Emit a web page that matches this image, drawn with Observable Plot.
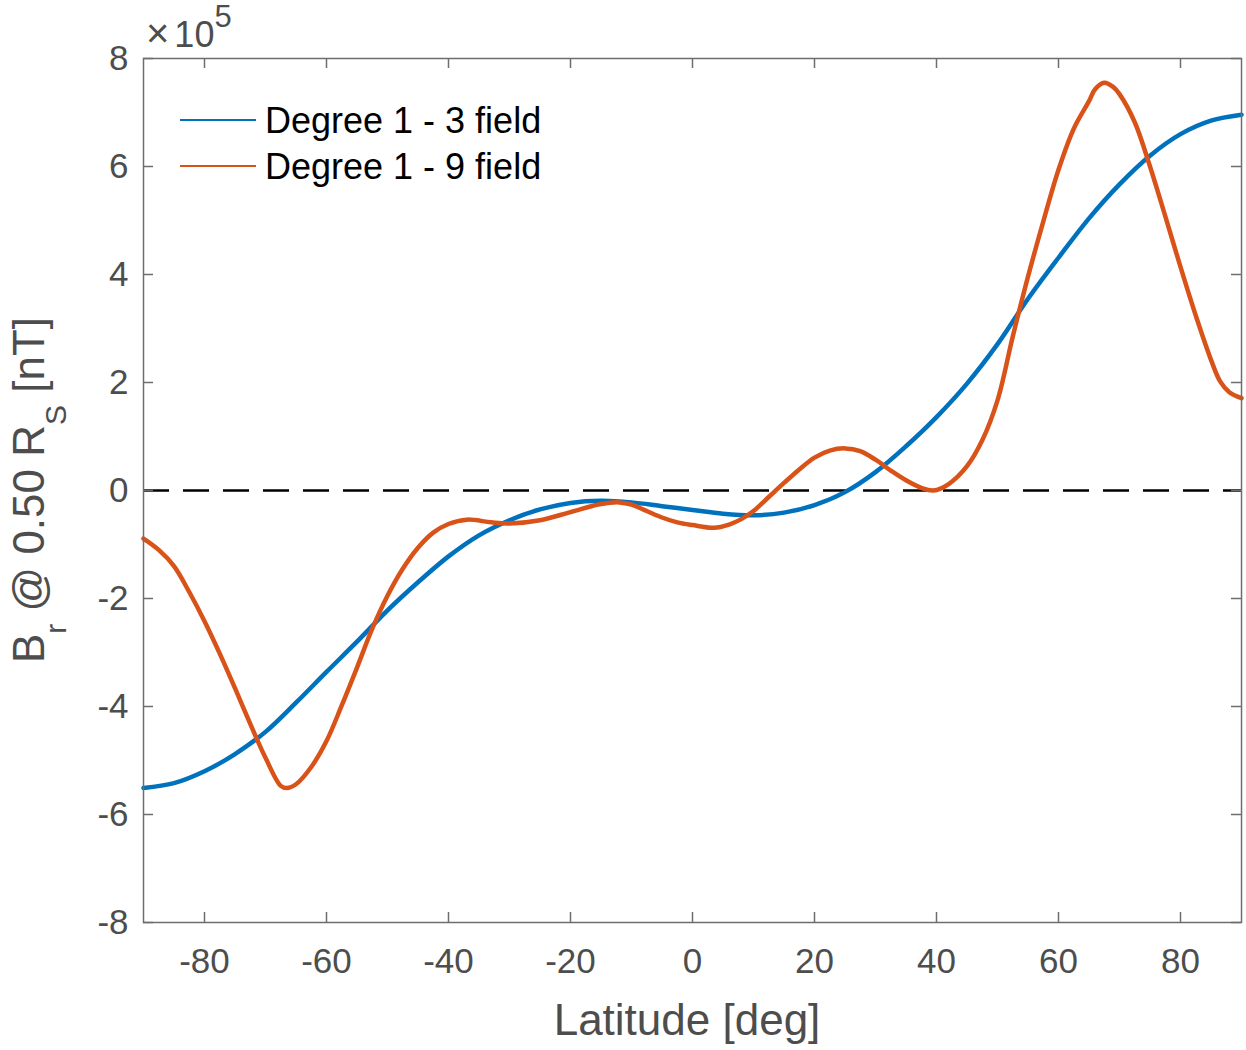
<!DOCTYPE html>
<html>
<head>
<meta charset="utf-8">
<script src="https://cdn.jsdelivr.net/npm/d3@7"></script>
<script src="https://cdn.jsdelivr.net/npm/@observablehq/plot@0.6"></script>
<style>
  body { margin: 0; background: #fff; }
  #chart { width: 1246px; height: 1050px; }
</style>
</head>
<body>
<div id="chart"></div>
<script>
// ---- data (values in units of 1e5 nT) ----
const latDeg13 = [-90,-85,-80,-75,-70,-65,-60,-55,-50,-45,-40,-35,-30,-25,-20,-15,-10,-5,0,5,10,15,20,25,30,35,40,45,50,55,60,65,70,75,80,85,90];
const brDeg13 = [-5.51,-5.42,-5.20,-4.88,-4.47,-3.93,-3.36,-2.80,-2.22,-1.70,-1.22,-0.83,-0.55,-0.35,-0.23,-0.19,-0.22,-0.29,-0.36,-0.43,-0.46,-0.41,-0.27,-0.03,0.34,0.82,1.36,1.98,2.71,3.55,4.31,5.04,5.67,6.20,6.60,6.85,6.96];

const latDeg19 = [-90,-87.5,-85,-82.5,-80,-77.5,-75,-72.5,-70,-67.5,-66.5,-65,-62.5,-60,-57.5,-55,-52.5,-50,-47.5,-45,-42.5,-40,-37,-33,-30,-25,-20,-15,-12,-10,-7.5,-5,-2.5,0,3.5,6,8,10,12.5,15,17.5,20,22.5,25,27.5,30,32.5,35,37.5,39.5,42,45,47.5,50,52.5,55,57.5,60,62.5,65,66,67.5,69,70,72.5,75,77.5,80,82.5,85,86.5,88,90];
const brDeg19 = [-0.89,-1.10,-1.40,-1.88,-2.42,-3.02,-3.66,-4.32,-4.95,-5.47,-5.51,-5.44,-5.12,-4.64,-3.98,-3.28,-2.56,-1.95,-1.45,-1.06,-0.78,-0.62,-0.54,-0.59,-0.61,-0.55,-0.40,-0.25,-0.22,-0.26,-0.38,-0.50,-0.59,-0.64,-0.69,-0.63,-0.53,-0.38,-0.12,0.14,0.39,0.61,0.74,0.78,0.73,0.57,0.37,0.19,0.05,0.00,0.12,0.45,0.93,1.67,2.85,3.96,4.98,5.94,6.70,7.21,7.43,7.55,7.47,7.34,6.82,6.00,5.08,4.14,3.24,2.42,2.02,1.82,1.71];

const seriesNames = ["Degree 1 - 3 field", "Degree 1 - 9 field"];
const seriesColors = ["#0072BD", "#D95319"];

const xTicks = [-80,-60,-40,-20,0,20,40,60,80];
const yTicks = [-8,-6,-4,-2,0,2,4,6,8];
const xDomain = [-90, 90];
const yDomain = [-8, 8];
const zeroLine = [0];

// ---- layout ----
const W = 1246, H = 1050;
const mL = 143, mR = 5, mT = 58, mB = 128;
const fw = W - mL - mR, fh = H - mT - mB;
const FONT = "Helvetica, 'Liberation Sans', Arial, sans-serif";
const axisGray = "#6e6e6e";
const textGray = "#4d4d4d";

const d13 = latDeg13.map((x, i) => ({x, y: brDeg13[i]}));
const d19 = latDeg19.map((x, i) => ({x, y: brDeg19[i]}));

const plot = Plot.plot({
  width: W, height: H,
  marginLeft: mL, marginRight: mR, marginTop: mT, marginBottom: mB,
  style: {fontFamily: FONT, fontSize: "35px", color: textGray, background: "white", overflow: "visible"},
  x: {domain: xDomain},
  y: {domain: yDomain},
  marks: [
    Plot.ruleY(zeroLine, {stroke: "black", strokeWidth: 2.5, strokeDasharray: "26,14"}),
    Plot.line(d13, {x: "x", y: "y", stroke: seriesColors[0], strokeWidth: 4.5, curve: "catmull-rom"}),
    Plot.line(d19, {x: "x", y: "y", stroke: seriesColors[1], strokeWidth: 4.5, curve: "catmull-rom"}),
    Plot.frame({stroke: axisGray, strokeWidth: 1.5}),
    Plot.tickX(xTicks, {x: d => d, stroke: axisGray, strokeWidth: 1.5, insetTop: fh - 10}),
    Plot.tickX(xTicks, {x: d => d, stroke: axisGray, strokeWidth: 1.5, insetBottom: fh - 10}),
    Plot.tickY(yTicks, {y: d => d, stroke: axisGray, strokeWidth: 1.5, insetRight: fw - 10}),
    Plot.tickY(yTicks, {y: d => d, stroke: axisGray, strokeWidth: 1.5, insetLeft: fw - 10}),
    Plot.axisX(xTicks, {tickSize: 0, tickPadding: 26, tickFormat: d => String(d), label: null, fontSize: 35, fill: textGray}),
    Plot.axisY(yTicks, {tickSize: 0, tickPadding: 15, tickFormat: d => String(d), label: null, fontSize: 35, fill: textGray})
  ]
});

document.getElementById("chart").appendChild(plot);

// ---- labels, exponent, legend ----
const svg = d3.select(plot);
const g = svg.append("g").attr("font-family", FONT).attr("text-anchor", "start");

g.append("text")
  .attr("x", 687).attr("y", 1035)
  .attr("text-anchor", "middle").attr("font-size", 44).attr("fill", textGray)
  .text("Latitude [deg]");

const yl = g.append("text")
  .attr("transform", "translate(44,490) rotate(-90)")
  .attr("text-anchor", "middle").attr("font-size", 44).attr("fill", textGray);
yl.append("tspan").text("B");
yl.append("tspan").attr("font-size", 30).attr("dy", 22).text("r");
yl.append("tspan").attr("dy", -22).text(" @ 0.50 R");
yl.append("tspan").attr("font-size", 30).attr("dy", 22).text("S");
yl.append("tspan").attr("dy", -22).text(" [nT]");

const ex = g.append("text").attr("x", 146).attr("y", 47)
  .attr("fill", textGray).attr("text-anchor", "start");
ex.append("tspan").attr("font-size", 40).text("×");
ex.append("tspan").attr("font-size", 36).attr("dx", 5).text("10");
ex.append("tspan").attr("font-size", 31).attr("dy", -20).text("5");

const leg = g.append("g");
seriesNames.forEach((name, i) => {
  const y = 120 + i * 46;
  leg.append("line").attr("x1", 180).attr("x2", 256).attr("y1", y).attr("y2", y)
    .attr("stroke", seriesColors[i]).attr("stroke-width", 2.2);
  leg.append("text").attr("x", 265).attr("y", y + 13).attr("font-size", 36)
    .attr("text-anchor", "start").attr("fill", "#000").text(name);
});
</script>
</body>
</html>
